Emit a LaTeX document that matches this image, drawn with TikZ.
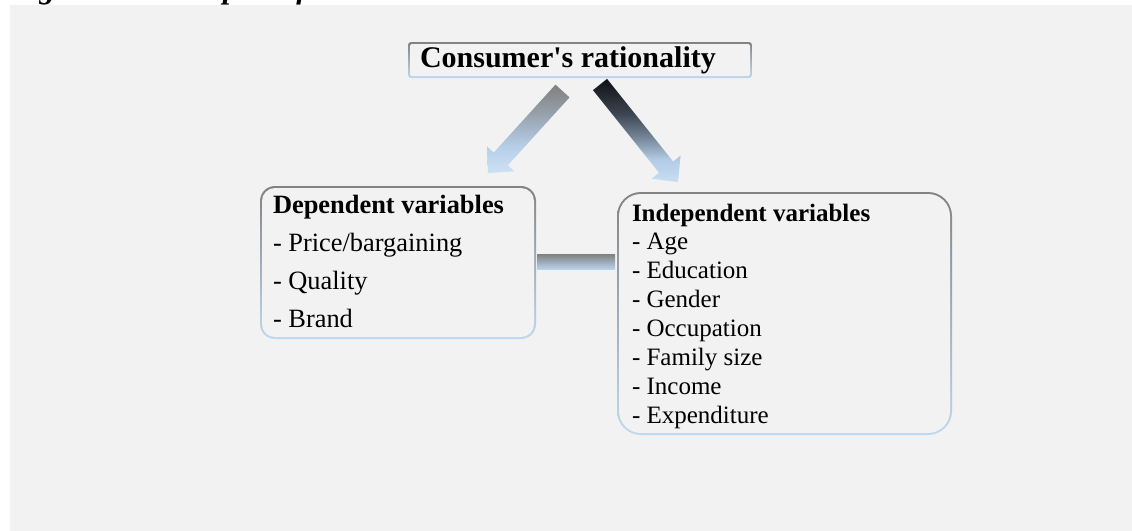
\documentclass[tikz,border=0pt]{standalone}
\usepackage{fontspec}
\setmainfont{Liberation Serif}[Ligatures=TeXOff]
\usetikzlibrary{calc}
\definecolor{bg}{RGB}{242,242,242}
\definecolor{bgray}{RGB}{130,130,130}
\definecolor{bblue}{RGB}{192,216,240}
\definecolor{barblue}{RGB}{185,210,235}
\definecolor{la1}{RGB}{128,128,128}
\definecolor{la2}{RGB}{150,160,170}
\definecolor{la3}{RGB}{165,182,200}
\definecolor{la4}{RGB}{182,207,232}
\definecolor{la5}{RGB}{205,225,243}
\definecolor{ra1}{RGB}{15,16,20}
\definecolor{ra2}{RGB}{60,70,82}
\definecolor{ra3}{RGB}{115,132,150}
\definecolor{ra4}{RGB}{178,203,228}
\definecolor{ra5}{RGB}{200,222,242}
\pgfdeclareverticalshading{larrowshade}{100bp}{color(0bp)=(la5); color(25bp)=(la5); color(40bp)=(la4); color(50bp)=(la3); color(59bp)=(la2); color(75bp)=(la1); color(100bp)=(la1)}
\pgfdeclareverticalshading{rarrowshade}{100bp}{color(0bp)=(ra5); color(25bp)=(ra5); color(36bp)=(ra4); color(47bp)=(ra3); color(58bp)=(ra2); color(75bp)=(ra1); color(100bp)=(ra1)}
\tikzset{
  gbox/.style 2 args={rectangle, inner sep=0pt, outer sep=0pt, rounded corners=#1,
    top color=bgray, bottom color=bblue,
    path picture={\fill[bg, rounded corners=#2]
      ([shift={(1pt,-1pt)}]path picture bounding box.north west) rectangle
      ([shift={(-1pt,1pt)}]path picture bounding box.south east);}},
  boxtext/.style={anchor=base west, inner sep=0pt, outer sep=0pt},
  captext/.style={anchor=base west, inner sep=0pt, font=\fontsize{15.5}{18}\selectfont\bfseries\itshape},
}
\begin{document}
\begin{tikzpicture}[x=0.5pt,y=-0.5pt]
\useasboundingbox (0,0) rectangle (1132,531);
% caption (clipped by the page top)
\node[captext] (cap) at (10,-1.5) {Figure 1: Conceptual framework};
% grey panel
\fill[bg] (10,5) rectangle (1132,531);

% boxes
\node[gbox={1.5pt}{0.8pt}, minimum width=172pt, minimum height=18pt] (topbox) at (580,60) {};
\node[gbox={7.5pt}{6.5pt}, minimum width=138pt, minimum height=76.5pt] (depbox) at (398,262.5) {};
\node[gbox={12pt}{11pt}, minimum width=167.5pt, minimum height=121.5pt] (indbox) at (784.5,313.5) {};

% texts
\node[boxtext] (toptxt) at (420,67) {\fontsize{15}{18}\selectfont\bfseries Consumer's rationality};
\node[boxtext] (deptxt) at (273,213) {\parbox[t]{130pt}{\fontsize{13.2}{19}\selectfont\textbf{Dependent variables}\\- Price/bargaining\\- Quality\\- Brand}};
\node[boxtext] (indtxt) at (632,221) {\parbox[t]{155pt}{\fontsize{12.5}{14.43}\selectfont\textbf{Independent variables}\\- Age\\- Education\\- Gender\\- Occupation\\- Family size\\- Income\\- Expenditure}};

% connector bar between the two boxes
\shade[top color=la1, bottom color=barblue]
  ($(depbox.east)+(1,-8.5)$) rectangle ($(indbox.west |- depbox.east)+(-2,6.5)$);

% block arrows
\coordinate (lS) at ($(topbox.south)+(-17.5,13)$);
\coordinate (lT) at ($(depbox.north)+(90,-13)$);
\coordinate (lB) at ($(lT)!9.5pt!(lS)$);
\shade[shading=larrowshade]
  ($(lS)!4.75pt!90:(lT)$) -- ($(lB)!4.75pt!90:(lT)$) -- ($(lB)!9.25pt!90:(lT)$) -- (lT)
  -- ($(lB)!9.25pt!-90:(lT)$) -- ($(lB)!4.75pt!-90:(lT)$) -- ($(lS)!4.75pt!-90:(lT)$) -- cycle;

\coordinate (rS) at ($(topbox.south)+(20,6.5)$);
\coordinate (rT) at ($(indbox.north)+(-106.5,-10)$);
\coordinate (rB) at ($(rT)!9.5pt!(rS)$);
\shade[shading=rarrowshade]
  ($(rS)!4.5pt!90:(rT)$) -- ($(rB)!4.5pt!90:(rT)$) -- ($(rB)!9.25pt!90:(rT)$) -- (rT)
  -- ($(rB)!9.25pt!-90:(rT)$) -- ($(rB)!4.5pt!-90:(rT)$) -- ($(rS)!4.5pt!-90:(rT)$) -- cycle;
\end{tikzpicture}
\end{document}
